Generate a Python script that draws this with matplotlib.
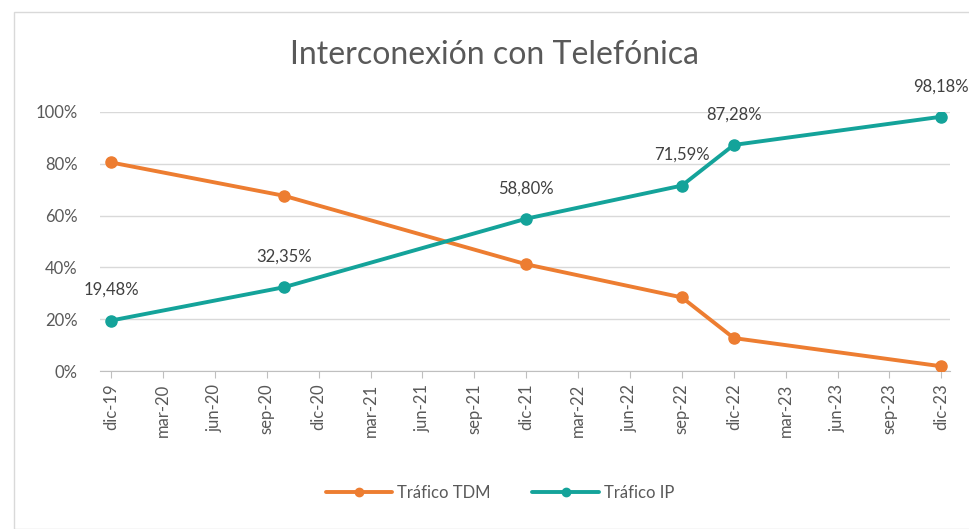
import matplotlib.pyplot as plt
from matplotlib.patches import Rectangle
from matplotlib.ticker import FuncFormatter

plt.rcParams['font.family'] = ['Lato', 'DejaVu Sans']

# meses desde dic-19
meses = [0, 10, 24, 33, 36, 48]
trafico_ip = [19.48, 32.35, 58.80, 71.59, 87.28, 98.18]
trafico_tdm = [80.52, 67.65, 41.20, 28.41, 12.72, 1.82]
etiquetas_x = ['dic-19', 'mar-20', 'jun-20', 'sep-20', 'dic-20', 'mar-21', 'jun-21',
               'sep-21', 'dic-21', 'mar-22', 'jun-22', 'sep-22', 'dic-22', 'mar-23',
               'jun-23', 'sep-23', 'dic-23']

NARANJA = '#ED7D31'
VERDE = '#14A39A'
GRIS = '#595959'

fig = plt.figure(figsize=(9.70, 5.29), dpi=100)
fig.patches.append(Rectangle((14 / 970, 0), 1, 1 - 12 / 529, transform=fig.transFigure,
                             fill=False, edgecolor='#D9D9D9', linewidth=1))
ax = fig.add_axes([100 / 970, 1 - 371 / 529, 850 / 970, 259 / 529])

ax.plot(meses, trafico_tdm, color=NARANJA, lw=2.8, marker='o', ms=8, label='Tráfico TDM',
        solid_capstyle='round', zorder=3)
ax.plot(meses, trafico_ip, color=VERDE, lw=2.8, marker='o', ms=8, label='Tráfico IP',
        solid_capstyle='round', zorder=3)

for x, v in zip(meses, trafico_ip):
    ax.annotate(f'{v:.2f}%'.replace('.', ','), (x, v), xytext=(0, 22),
                textcoords='offset points', ha='center', va='center',
                fontsize=12, color='#404040')

ax.set_ylim(0, 100)
ax.set_yticks(range(0, 101, 20))
ax.yaxis.set_major_formatter(FuncFormatter(lambda v, p: f'{v:.0f}%'))
ax.set_xlim(-0.64, 48.5)
ax.set_xticks(range(0, 49, 3))
ax.set_xticklabels(etiquetas_x, rotation=90)

ax.grid(axis='y', color='#D9D9D9', lw=1)
ax.set_axisbelow(True)
for s in ['top', 'right', 'left']:
    ax.spines[s].set_visible(False)
ax.spines['bottom'].set_color('#BFBFBF')
ax.tick_params(axis='y', length=0, labelsize=12, labelcolor=GRIS, pad=16)
ax.tick_params(axis='x', length=5, color='#BFBFBF', labelsize=12, labelcolor=GRIS, pad=4)

fig.text(495 / 970, 1 - 55 / 529, 'Interconexión con Telefónica', ha='center', va='center',
         fontsize=23, color=GRIS)

fig.legend(loc='center', bbox_to_anchor=(500 / 970, 1 - 493 / 529), ncol=2, frameon=False,
           fontsize=12, labelcolor=GRIS, handlelength=4, columnspacing=2.5, handletextpad=0.3,
           markerscale=0.75)

fig.savefig('out.png', dpi=100)
